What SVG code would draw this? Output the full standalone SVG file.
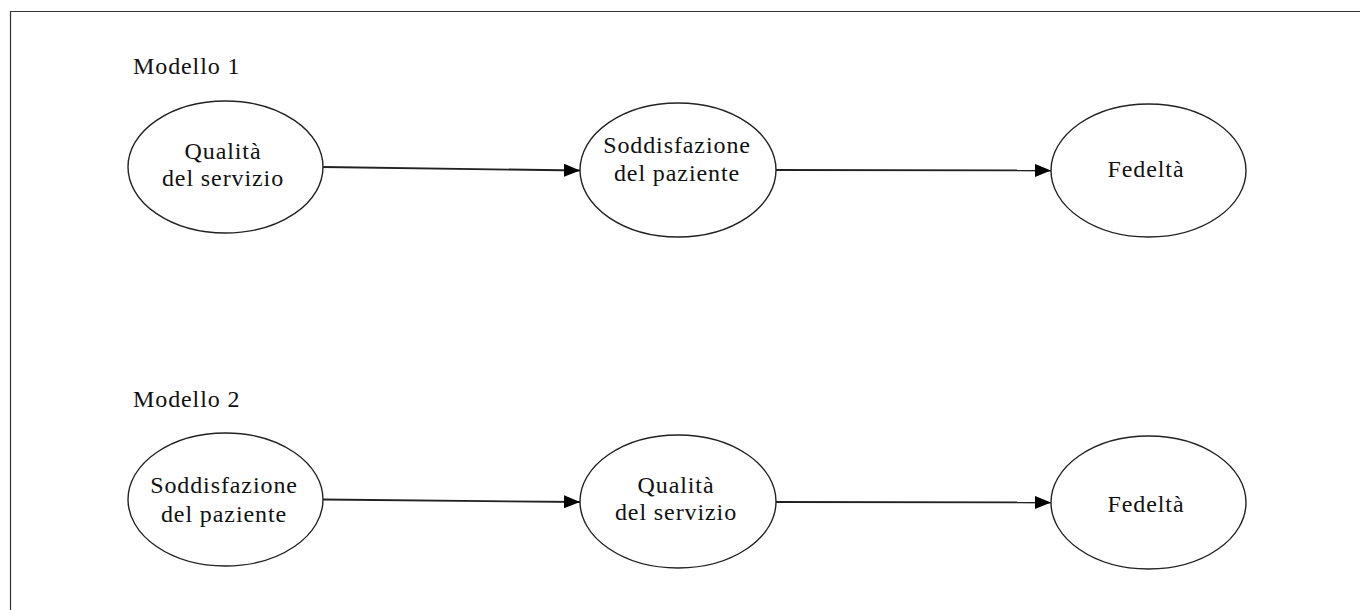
<svg xmlns="http://www.w3.org/2000/svg" width="1360" height="610" viewBox="0 0 1360 610">
<style>
.frame{stroke:#333;stroke-width:1.2;fill:none}
.node ellipse{fill:#fff;stroke:#222;stroke-width:1.4}
text{font-family:"Liberation Serif","Times New Roman",serif;font-size:24px;letter-spacing:0.9px;fill:#111}
.c{text-anchor:middle}
.edge{stroke:#222;stroke-width:1.8;fill:none}
</style>
<defs>
<marker id="ah" markerUnits="userSpaceOnUse" markerWidth="17" markerHeight="14" refX="16" refY="6.5" orient="auto">
<path d="M0,0 L16,6.5 L0,13 z" fill="#000"/>
</marker>
</defs>
<rect width="1360" height="610" fill="#fff"/>
<path class="frame" d="M10.5,610 V11.5 H1360"/>
<text x="133" y="74">Modello 1</text>
<text x="133" y="407">Modello 2</text>
<g id="connectors">
<line class="edge" x1="323" y1="167" x2="580" y2="170.5" marker-end="url(#ah)"/>
<line class="edge" x1="776" y1="170" x2="1051" y2="170.5" marker-end="url(#ah)"/>
<line class="edge" x1="323" y1="499.5" x2="580" y2="502" marker-end="url(#ah)"/>
<line class="edge" x1="776" y1="502" x2="1051" y2="502.5" marker-end="url(#ah)"/>
</g>
<g id="m1-qualita" class="node">
<ellipse cx="225.5" cy="167" rx="97.5" ry="66"/>
<text class="c" x="223" y="159">Qualità</text>
<text class="c" x="223" y="186">del servizio</text>
</g>
<g id="m1-soddisfazione" class="node">
<ellipse cx="678" cy="170" rx="98" ry="67"/>
<text class="c" x="677" y="153">Soddisfazione</text>
<text class="c" x="677" y="181">del paziente</text>
</g>
<g id="m1-fedelta" class="node">
<ellipse cx="1148.5" cy="170.5" rx="97.5" ry="66.5"/>
<text class="c" x="1146" y="177">Fedeltà</text>
</g>
<g id="m2-soddisfazione" class="node">
<ellipse cx="225.5" cy="499.5" rx="97.5" ry="66.5"/>
<text class="c" x="224" y="493">Soddisfazione</text>
<text class="c" x="224" y="521.5">del paziente</text>
</g>
<g id="m2-qualita" class="node">
<ellipse cx="678" cy="501.5" rx="98" ry="66.5"/>
<text class="c" x="676" y="492.5">Qualità</text>
<text class="c" x="676" y="520">del servizio</text>
</g>
<g id="m2-fedelta" class="node">
<ellipse cx="1148.5" cy="502.5" rx="97.5" ry="66.5"/>
<text class="c" x="1146" y="511.5">Fedeltà</text>
</g>
</svg>
